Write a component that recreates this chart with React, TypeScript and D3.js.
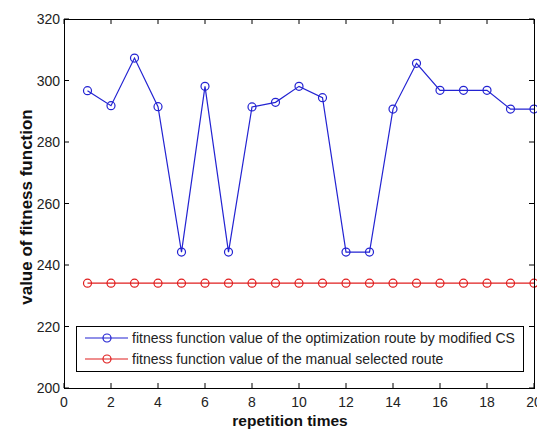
import React from "react";
import * as d3 from "d3";

const repetitions = [1,2,3,4,5,6,7,8,9,10,11,12,13,14,15,16,17,18,19,20];
const csValues = [296.7,291.8,307.3,291.5,244.2,298.1,244.2,291.4,292.9,298.1,294.4,244.2,244.2,290.7,305.6,296.8,296.8,296.8,290.7,290.7];
const manualValues = [234.1,234.1,234.1,234.1,234.1,234.1,234.1,234.1,234.1,234.1,234.1,234.1,234.1,234.1,234.1,234.1,234.1,234.1,234.1,234.1];
const xTicks = [0,2,4,6,8,10,12,14,16,18,20];
const yTicks = [200,220,240,260,280,300,320];
const seriesNames = [
  "fitness function value of the optimization route by modified CS",
  "fitness function value of the manual selected route",
];
const seriesColors = ["#2323d2", "#e01e1e"];

export default function App() {
  const W = 537, H = 430;
  const L = 64, R = 534, T = 19, B = 388;
  const x = d3.scaleLinear().domain([0, 20]).range([L, R]);
  const y = d3.scaleLinear().domain([200, 320]).range([B, T]);
  const line = d3.line<number>().x((_, i) => x(repetitions[i])).y(d => y(d));
  const series = [csValues, manualValues];
  const font = "Arial, 'Liberation Sans', sans-serif";
  const tl = 5;
  return (
    <svg width={W} height={H} style={{ position: "absolute", left: 0, top: 0, background: "#fff" }}>
      <rect x={0} y={0} width={W} height={H} fill="#fff" />
      {/* ticks */}
      {xTicks.map(t => (
        <g key={"x" + t}>
          <line x1={x(t)} x2={x(t)} y1={B} y2={B - tl} stroke="#000" />
          <line x1={x(t)} x2={x(t)} y1={T} y2={T + tl} stroke="#000" />
          <text x={x(t)} y={407} textAnchor="middle" fontFamily={font} fontSize={14} fill="#222">{t}</text>
        </g>
      ))}
      {yTicks.map(t => (
        <g key={"y" + t}>
          <line x1={L} x2={L + tl} y1={y(t)} y2={y(t)} stroke="#000" />
          <line x1={R} x2={R - tl} y1={y(t)} y2={y(t)} stroke="#000" />
          <text x={60} y={y(t) + 5} textAnchor="end" fontFamily={font} fontSize={14} fill="#222">{t}</text>
        </g>
      ))}
      {/* series */}
      {series.map((s, si) => (
        <g key={"s" + si}>
          <path d={line(s) || ""} fill="none" stroke={seriesColors[si]} strokeWidth={1.2} />
          {s.map((v, i) => (
            <circle key={i} cx={x(repetitions[i])} cy={y(v)} r={4} fill="none" stroke={seriesColors[si]} strokeWidth={1.2} />
          ))}
        </g>
      ))}
      {/* legend */}
      <rect x={76.5} y={326.5} width={447} height={45} fill="#fff" stroke="#000" strokeWidth={1} />
      {seriesNames.map((n, i) => {
        const yy = 338 + i * 21;
        return (
          <g key={"l" + i}>
            <line x1={85} x2={128} y1={yy} y2={yy} stroke={seriesColors[i]} strokeWidth={1.2} />
            <circle cx={107} cy={yy} r={4} fill="none" stroke={seriesColors[i]} strokeWidth={1.2} />
            <text x={132} y={yy + 5} fontFamily={font} fontSize={14} fill="#222">{n}</text>
          </g>
        );
      })}
      {/* axes box */}
      <rect x={L + 0.5} y={T + 0.5} width={R - L} height={B - T} fill="none" stroke="#000" strokeWidth={1} />
      {/* labels */}
      <text x={290} y={426} textAnchor="middle" fontFamily={font} fontSize={15.5} fontWeight="bold" fill="#111">repetition times</text>
      <text transform={`translate(32, 207) rotate(-90)`} textAnchor="middle" fontFamily={font} fontSize={17} fontWeight="bold" fill="#111">value of fitness function</text>
    </svg>
  );
}
